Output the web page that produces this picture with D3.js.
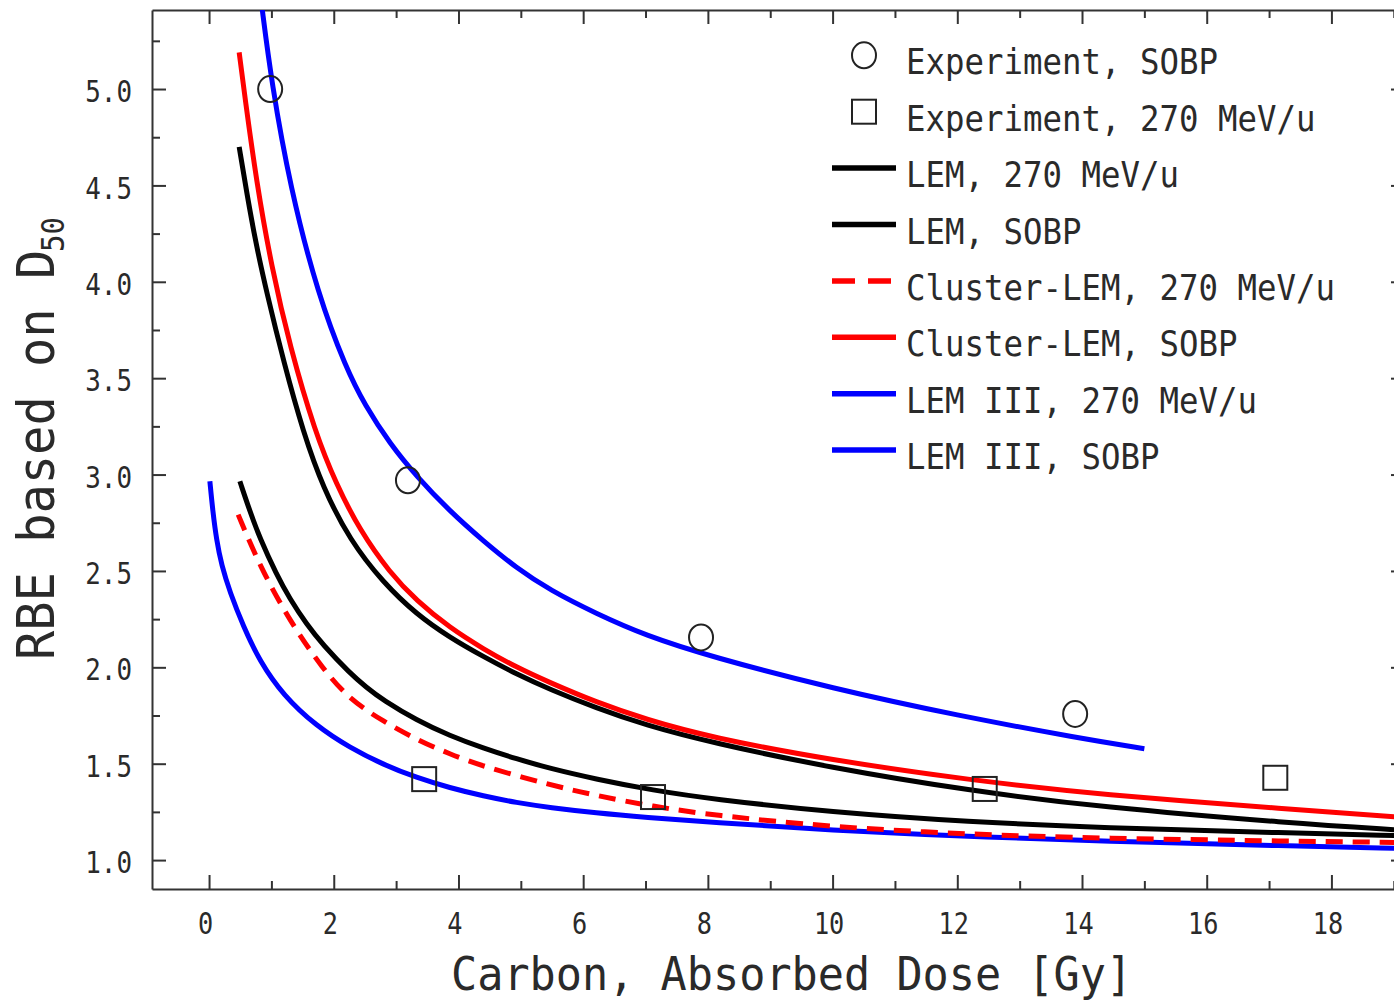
<!DOCTYPE html>
<html>
<head>
<meta charset="utf-8">
<script src="https://cdn.jsdelivr.net/npm/d3@7"></script>
<style>
  body { margin: 0; background: #fff; }
  svg { display: block; background: #fff; }
  text { font-family: "DejaVu Sans Mono", monospace; fill: #2a2a2a; }
</style>
</head>
<body>
<svg id="chart"></svg>
<script>
// Curves (dose in Gy, RBE)
const doseLem3Sobp = [0.80, 0.85, 1.0, 1.3, 1.75, 2.2, 2.5, 2.9, 3.33, 3.86, 4.4, 4.93, 5.47, 6.2, 7.0, 8.05, 10.0, 12.0, 14.0, 15.0];
const rbeLem3Sobp  = [5.55, 5.42, 5.04, 4.49, 3.93, 3.55, 3.36, 3.16, 2.99, 2.81, 2.655, 2.515, 2.40, 2.28, 2.165, 2.055, 1.89, 1.75, 1.63, 1.578];

const doseClusterSobp = [0.483, 0.574, 0.76, 1.0, 1.3, 1.7, 2.04, 2.42, 2.9, 3.33, 3.86, 4.4, 4.93, 5.47, 6.2, 7.0, 8.05, 9.95, 12.2, 14.29, 17.4, 19.0, 19.3];
const rbeClusterSobp  = [5.19, 4.96, 4.52, 4.08, 3.66, 3.22, 2.95, 2.71, 2.49, 2.345, 2.205, 2.095, 2.0, 1.92, 1.82, 1.73, 1.636, 1.52, 1.415, 1.34, 1.262, 1.225, 1.219];

const doseLemSobp = [0.483, 0.6, 0.75, 0.92, 1.2, 1.51, 1.83, 2.258, 2.79, 3.33, 3.86, 4.4, 4.93, 5.47, 6.2, 7.0, 8.05, 9.95, 12.2, 14.29, 17.4, 19.0, 19.3];
const rbeLemSobp  = [4.70, 4.47, 4.20, 3.95, 3.58, 3.22, 2.93, 2.66, 2.44, 2.274, 2.155, 2.055, 1.965, 1.885, 1.79, 1.70, 1.61, 1.48, 1.36, 1.275, 1.19, 1.158, 1.152];

const doseLem270 = [0.494, 0.654, 0.815, 1.083, 1.296, 1.56, 1.83, 2.258, 2.526, 2.79, 3.33, 3.86, 4.4, 4.93, 5.47, 6.2, 7.12, 8.05, 9.95, 12.2, 14.29, 17.4, 19.0, 19.3];
const rbeLem270  = [2.965, 2.81, 2.67, 2.48, 2.355, 2.225, 2.115, 1.97, 1.895, 1.83, 1.725, 1.645, 1.58, 1.525, 1.475, 1.42, 1.362, 1.317, 1.25, 1.198, 1.168, 1.14, 1.127, 1.125];

const doseCluster270 = [0.467, 0.815, 1.296, 1.83, 2.258, 2.79, 3.33, 3.86, 4.4, 5.47, 6.2, 7.12, 8.05, 9.95, 12.2, 14.29, 17.4, 19.0, 19.3];
const rbeCluster270  = [2.792, 2.524, 2.239, 1.989, 1.833, 1.72, 1.625, 1.55, 1.485, 1.39, 1.335, 1.278, 1.234, 1.172, 1.133, 1.113, 1.098, 1.092, 1.09];

const doseLem3270 = [0.013, 0.06, 0.12, 0.2, 0.334, 0.547, 0.815, 1.19, 1.72, 2.258, 2.79, 3.33, 3.86, 4.4, 4.93, 5.47, 6.2, 7.0, 8.05, 9.95, 12.2, 14.29, 17.4, 19.0, 19.3];
const rbeLem3270  = [2.965, 2.81, 2.66, 2.53, 2.39, 2.215, 2.03, 1.855, 1.695, 1.583, 1.496, 1.427, 1.375, 1.332, 1.298, 1.272, 1.245, 1.222, 1.196, 1.155, 1.122, 1.098, 1.073, 1.061, 1.059];

// Experimental points
const doseExpSobp = [0.98, 3.19, 7.89, 13.89];
const rbeExpSobp  = [5.00, 2.97, 2.155, 1.758];
const doseExp270  = [3.45, 7.12, 12.44, 17.10];
const rbeExp270   = [1.42, 1.327, 1.369, 1.427];

// Ticks
const xMajor = [0, 2, 4, 6, 8, 10, 12, 14, 16, 18];
const xMinor = [1, 3, 5, 7, 9, 11, 13, 15, 17, 19];
const yMajor = [1.0, 1.5, 2.0, 2.5, 3.0, 3.5, 4.0, 4.5, 5.0];
const yMinor = [1.25, 1.75, 2.25, 2.75, 3.25, 3.75, 4.25, 4.75, 5.25];

const width = 1394, height = 1002;
const plotLeft = 152, plotRight = 1405, plotTop = 10, plotBottom = 889;

const svg = d3.select("#chart").attr("width", width).attr("height", height);

const x = d3.scaleLinear().domain([-0.915, 19.18]).range([plotLeft, plotRight]);
const y = d3.scaleLinear().domain([0.85, 5.41]).range([plotBottom, plotTop]);

// squeeze monospace text to the narrow plotting font
function squeeze(sel, adv) {
  sel.attr("textLength", function () { return this.textContent.length * adv; })
     .attr("lengthAdjust", "spacingAndGlyphs");
}

function styleAxis(g) {
  g.select(".domain").attr("stroke", "#333").attr("stroke-width", 2);
  g.selectAll(".tick line").attr("stroke", "#333").attr("stroke-width", 2);
}

// bottom axis with labels
const gBottom = svg.append("g")
  .attr("transform", `translate(0,${plotBottom})`)
  .call(d3.axisBottom(x).tickValues(xMajor).tickSize(-14).tickSizeOuter(0).tickPadding(24).tickFormat(d3.format("d")));
styleAxis(gBottom);
gBottom.selectAll(".tick text")
  .attr("font-family", "DejaVu Sans Mono").attr("font-size", 30).attr("fill", "#2a2a2a")
  .attr("dx", -4)
  .call(squeeze, 15.2);

svg.append("g").attr("transform", `translate(0,${plotBottom})`)
  .call(d3.axisBottom(x).tickValues(xMinor).tickSize(-8).tickSizeOuter(0).tickFormat(""))
  .call(g => { g.select(".domain").remove(); styleAxis(g); });

// top axis, ticks only
const gTop = svg.append("g").attr("transform", `translate(0,${plotTop})`)
  .call(d3.axisTop(x).tickValues(xMajor).tickSize(-14).tickSizeOuter(0).tickFormat(""));
styleAxis(gTop);
svg.append("g").attr("transform", `translate(0,${plotTop})`)
  .call(d3.axisTop(x).tickValues(xMinor).tickSize(-8).tickSizeOuter(0).tickFormat(""))
  .call(g => { g.select(".domain").remove(); styleAxis(g); });

// left axis with labels
const gLeft = svg.append("g")
  .attr("transform", `translate(${plotLeft},0)`)
  .call(d3.axisLeft(y).tickValues(yMajor).tickSize(-14).tickSizeOuter(0).tickPadding(20).tickFormat(d3.format(".1f")));
styleAxis(gLeft);
gLeft.selectAll(".tick text")
  .attr("font-family", "DejaVu Sans Mono").attr("font-size", 30).attr("fill", "#2a2a2a")
  .attr("dy", "0.42em")
  .call(squeeze, 15.6);

svg.append("g").attr("transform", `translate(${plotLeft},0)`)
  .call(d3.axisLeft(y).tickValues(yMinor).tickSize(-8).tickSizeOuter(0).tickFormat(""))
  .call(g => { g.select(".domain").remove(); styleAxis(g); });

// right axis, ticks only
const gRight = svg.append("g").attr("transform", `translate(${plotRight},0)`)
  .call(d3.axisRight(y).tickValues(yMajor).tickSize(-14).tickSizeOuter(0).tickFormat(""));
styleAxis(gRight);
svg.append("g").attr("transform", `translate(${plotRight},0)`)
  .call(d3.axisRight(y).tickValues(yMinor).tickSize(-8).tickSizeOuter(0).tickFormat(""))
  .call(g => { g.select(".domain").remove(); styleAxis(g); });

// clip for curves
svg.append("defs").append("clipPath").attr("id", "plotclip")
  .append("rect").attr("x", plotLeft).attr("y", plotTop)
  .attr("width", plotRight - plotLeft).attr("height", plotBottom - plotTop);

const line = d3.line()
  .x(d => x(d[0]))
  .y(d => y(d[1]))
  .curve(d3.curveBasis);

const series = [
  { name: "LEM III, 270 MeV/u", xs: doseLem3270, ys: rbeLem3270, color: "#0000ff", dash: null },
  { name: "Cluster-LEM, 270 MeV/u", xs: doseCluster270, ys: rbeCluster270, color: "#ff0000", dash: "17,10" },
  { name: "LEM, 270 MeV/u", xs: doseLem270, ys: rbeLem270, color: "#000000", dash: null },
  { name: "LEM, SOBP", xs: doseLemSobp, ys: rbeLemSobp, color: "#000000", dash: null },
  { name: "Cluster-LEM, SOBP", xs: doseClusterSobp, ys: rbeClusterSobp, color: "#ff0000", dash: null },
  { name: "LEM III, SOBP", xs: doseLem3Sobp, ys: rbeLem3Sobp, color: "#0000ff", dash: null }
];

const curves = svg.append("g").attr("clip-path", "url(#plotclip)");
curves.selectAll("path")
  .data(series)
  .join("path")
  .attr("d", s => line(s.xs.map((v, i) => [v, s.ys[i]])))
  .attr("fill", "none")
  .attr("stroke", s => s.color)
  .attr("stroke-width", 5)
  .attr("stroke-dasharray", s => s.dash);

// experimental markers
const marks = svg.append("g").attr("fill", "none").attr("stroke", "#222").attr("stroke-width", 2);
marks.selectAll("ellipse")
  .data(doseExpSobp.map((v, i) => [v, rbeExpSobp[i]]))
  .join("ellipse")
  .attr("cx", d => x(d[0])).attr("cy", d => y(d[1]))
  .attr("rx", 12).attr("ry", 13);
marks.selectAll("rect")
  .data(doseExp270.map((v, i) => [v, rbeExp270[i]]))
  .join("rect")
  .attr("x", d => x(d[0]) - 12).attr("y", d => y(d[1]) - 12)
  .attr("width", 24).attr("height", 24);

// legend
const legendItems = [
  { label: "Experiment, SOBP", type: "circle" },
  { label: "Experiment, 270 MeV/u", type: "square" },
  { label: "LEM, 270 MeV/u", type: "line", color: "#000000", dash: null },
  { label: "LEM, SOBP", type: "line", color: "#000000", dash: null },
  { label: "Cluster-LEM, 270 MeV/u", type: "line", color: "#ff0000", dash: "23,13" },
  { label: "Cluster-LEM, SOBP", type: "line", color: "#ff0000", dash: null },
  { label: "LEM III, 270 MeV/u", type: "line", color: "#0000ff", dash: null },
  { label: "LEM III, SOBP", type: "line", color: "#0000ff", dash: null }
];
const legend = svg.append("g");
const rowH = 56.4, row0 = 55.3;
const lg = legend.selectAll("g")
  .data(legendItems)
  .join("g")
  .attr("transform", (d, i) => `translate(0,${row0 + i * rowH})`);

lg.filter(d => d.type === "circle").append("ellipse")
  .attr("cx", 864).attr("cy", 0).attr("rx", 12).attr("ry", 13)
  .attr("fill", "none").attr("stroke", "#222").attr("stroke-width", 2);
lg.filter(d => d.type === "square").append("rect")
  .attr("x", 852).attr("y", -12).attr("width", 24).attr("height", 24)
  .attr("fill", "none").attr("stroke", "#222").attr("stroke-width", 2);
lg.filter(d => d.type === "line").append("line")
  .attr("x1", 832).attr("x2", 896).attr("y1", 0).attr("y2", 0)
  .attr("stroke", d => d.color).attr("stroke-width", 5.5)
  .attr("stroke-dasharray", d => d.dash);
lg.append("text")
  .attr("x", 906).attr("y", 19)
  .attr("font-size", 36)
  .text(d => d.label)
  .call(squeeze, 19.5);

// axis titles
svg.append("text")
  .attr("x", 451).attr("y", 990)
  .attr("font-size", 47)
  .text("Carbon, Absorbed Dose [Gy]")
  .call(squeeze, 26.2);

const yTitle = svg.append("g").attr("transform", "translate(54,660) rotate(-90)");
yTitle.append("text")
  .attr("x", 0).attr("y", 0)
  .attr("font-size", 52)
  .text("RBE based on D")
  .call(squeeze, 29.3);
yTitle.append("text")
  .attr("x", 408).attr("y", 10)
  .attr("font-size", 32)
  .text("50")
  .call(squeeze, 17.5);
</script>
</body>
</html>
